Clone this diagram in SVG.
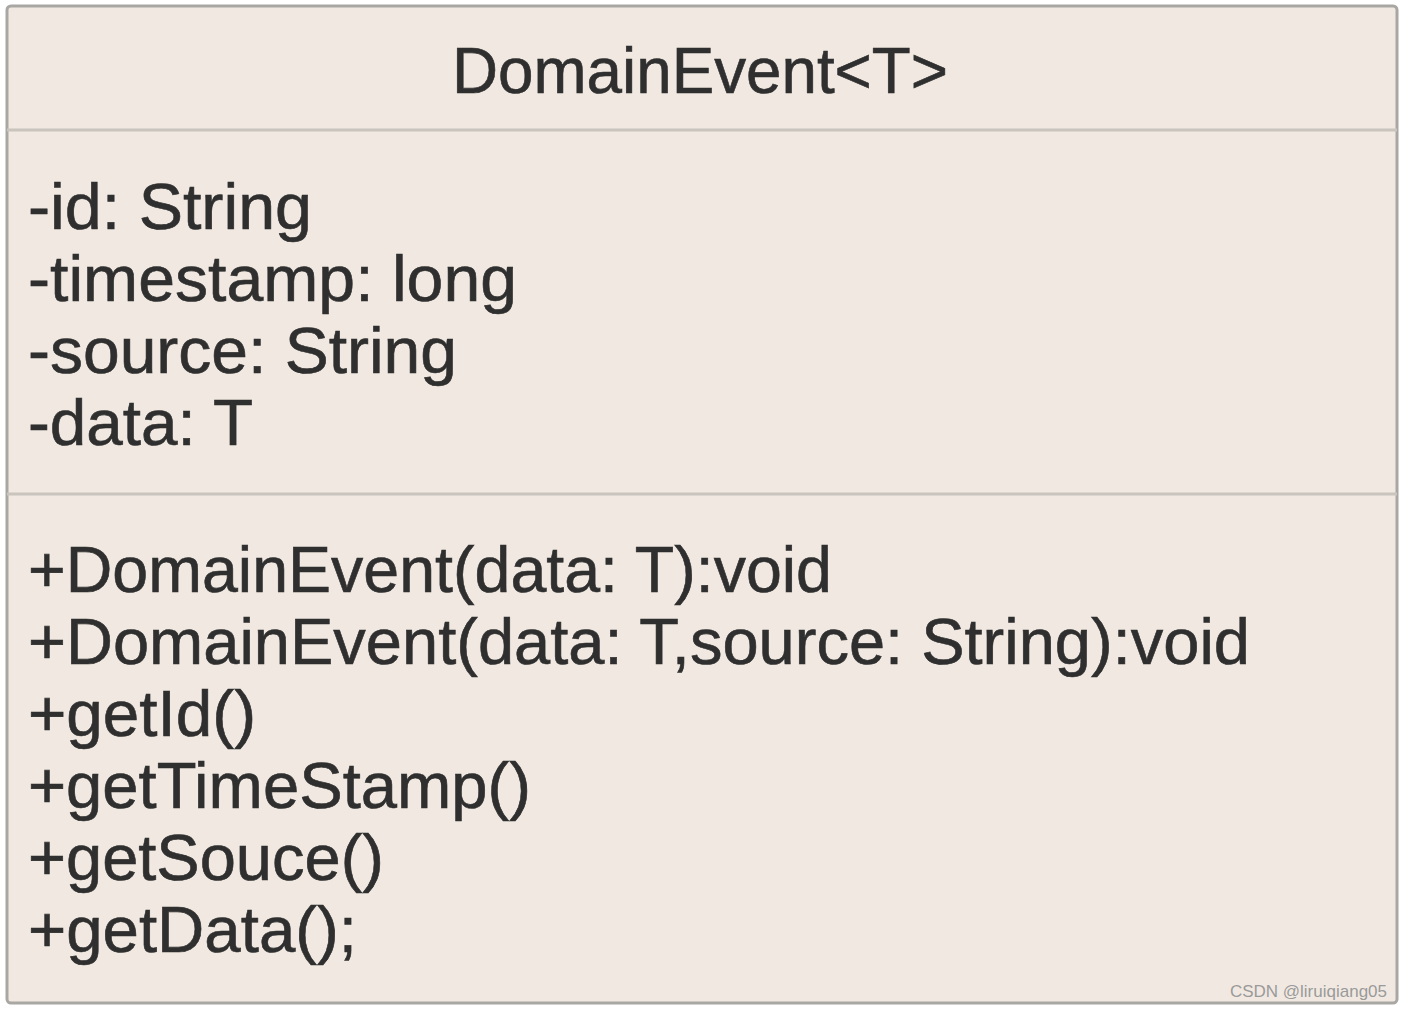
<svg xmlns="http://www.w3.org/2000/svg" width="1402" height="1010" viewBox="0 0 1402 1010">
<style>
.t{font-family:"Liberation Sans",Arial,sans-serif;font-size:64px;fill:#2f2f2f;stroke:#2f2f2f;stroke-width:0.6}
.div{stroke:#c9c4be;stroke-width:3}
</style>
<rect width="1402" height="1010" fill="#ffffff"/>
<g id="class-DomainEvent">
<rect x="7" y="6" width="1390" height="997" rx="4" fill="#f1e9e1" stroke="#a9a7a4" stroke-width="3"/>
<line class="div" x1="7" y1="130" x2="1397" y2="130"/>
<line class="div" x1="7" y1="494" x2="1397" y2="494"/>
<text class="t" x="452" y="93" textLength="496" lengthAdjust="spacingAndGlyphs">DomainEvent&lt;T&gt;</text>
<text class="t" x="28" y="229" textLength="284" lengthAdjust="spacingAndGlyphs">-id: String</text>
<text class="t" x="28" y="301" textLength="489" lengthAdjust="spacingAndGlyphs">-timestamp: long</text>
<text class="t" x="28" y="373" textLength="429" lengthAdjust="spacingAndGlyphs">-source: String</text>
<text class="t" x="28" y="445" textLength="225" lengthAdjust="spacingAndGlyphs">-data: T</text>
<text class="t" x="28" y="592" textLength="804" lengthAdjust="spacingAndGlyphs">+DomainEvent(data: T):void</text>
<text class="t" x="28" y="664" textLength="1222" lengthAdjust="spacingAndGlyphs">+DomainEvent(data: T,source: String):void</text>
<text class="t" x="28" y="736" textLength="228" lengthAdjust="spacingAndGlyphs">+getId()</text>
<text class="t" x="28" y="808" textLength="503" lengthAdjust="spacingAndGlyphs">+getTimeStamp()</text>
<text class="t" x="28" y="880" textLength="356" lengthAdjust="spacingAndGlyphs">+getSouce()</text>
<text class="t" x="28" y="952" textLength="329" lengthAdjust="spacingAndGlyphs">+getData();</text>
</g>
<text x="1387" y="997" text-anchor="end" font-family="Liberation Sans,Arial,sans-serif" font-size="17" fill="#9a9a9a">CSDN @liruiqiang05</text>
</svg>
